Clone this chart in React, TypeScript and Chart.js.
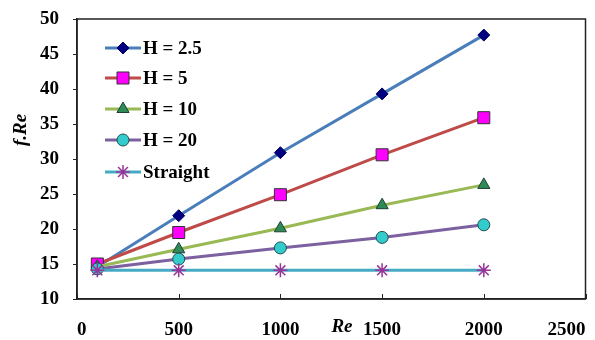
import React, { useEffect, useRef } from "react";
import { Chart, registerables } from "chart.js";
import { drawPoint } from "chart.js/helpers";

Chart.register(...registerables);

const reValues = [100, 500, 1000, 1500, 2000];
const seriesNames = ["H = 2.5", "H = 5", "H = 10", "H = 20", "Straight"];
const h25 = [14.6, 21.9, 30.9, 39.3, 47.7];
const h5 = [15.0, 19.5, 24.9, 30.6, 35.9];
const h10 = [14.6, 17.1, 20.1, 23.4, 26.3];
const h20 = [14.3, 15.7, 17.3, 18.8, 20.6];
const straight = [14.1, 14.1, 14.1, 14.1, 14.1];
const yTicks = [10, 15, 20, 25, 30, 35, 40, 45, 50];
const xTicks = [0, 500, 1000, 1500, 2000, 2500];

const lineColors = ["#4A7EBB", "#BE4B48", "#98B954", "#7D60A0", "#46AAC5"];
const markerFill = ["#000080", "#FF00FF", "#2E8B57", "#33CCCC", "#993399"];
const markerBorder = ["#000060", "#333333", "#1F3F2F", "#1F4F4F", "#993399"];
const markerStyle = ["rectRot", "rect", "triangle", "circle", "star"];
const markerRadius = [6, 8.5, 7, 6, 7];

const FONT = "'Liberation Serif', 'Times New Roman', serif";
const FS = 19;

const extras = {
  id: "extras",
  afterDraw(chart: any) {
    const ctx = chart.ctx;
    const a = chart.chartArea;
    const xs = chart.scales.x;
    ctx.save();
    ctx.strokeStyle = "#222";
    ctx.lineWidth = 1.5;
    ctx.strokeRect(a.left, a.top, a.right - a.left, a.bottom - a.top);
    // inward x tick marks
    ctx.lineWidth = 1;
    xTicks.forEach((v) => {
      const px = Math.round(xs.getPixelForValue(v)) + 0.5;
      ctx.beginPath();
      ctx.moveTo(px, a.bottom);
      ctx.lineTo(px, a.bottom - 5);
      ctx.stroke();
    });
    const rows = [48, 78, 109, 140, 172];
    rows.forEach((y, i) => {
      ctx.strokeStyle = lineColors[i];
      ctx.lineWidth = 3;
      ctx.beginPath();
      ctx.moveTo(105, y);
      ctx.lineTo(141, y);
      ctx.stroke();
      ctx.fillStyle = markerFill[i];
      ctx.strokeStyle = markerBorder[i];
      ctx.lineWidth = i === 4 ? 1.5 : 1;
      drawPoint(ctx, { pointStyle: markerStyle[i], radius: markerRadius[i], rotation: 0, borderWidth: 1 } as any, 123, y);
      ctx.fillStyle = "#000";
      ctx.font = `bold ${FS}px ${FONT}`;
      ctx.textBaseline = "middle";
      ctx.textAlign = "left";
      ctx.fillText(seriesNames[i], 143, y + 1);
    });
    ctx.fillStyle = "#000";
    ctx.font = `italic bold ${FS}px ${FONT}`;
    ctx.textAlign = "center";
    ctx.textBaseline = "middle";
    ctx.fillText("Re", 342, 327);
    ctx.translate(21, 130);
    ctx.rotate(-Math.PI / 2);
    ctx.fillText("f.Re", 0, 0);
    ctx.restore();
  },
};

export default function App() {
  const ref = useRef<HTMLCanvasElement>(null);
  useEffect(() => {
    const data = [h25, h5, h10, h20, straight];
    const chart = new Chart(ref.current!, {
      type: "line",
      data: {
        datasets: data.map((vals, i) => ({
          label: seriesNames[i],
          data: reValues.map((x, j) => ({ x, y: vals[j] })),
          borderColor: lineColors[i],
          borderWidth: 3,
          backgroundColor: markerFill[i],
          pointBackgroundColor: markerFill[i],
          pointBorderColor: markerBorder[i],
          pointBorderWidth: i === 4 ? 1.5 : 1,
          pointStyle: markerStyle[i] as any,
          pointRadius: markerRadius[i],
          tension: 0,
          order: 4 - i,
        })),
      },
      options: {
        responsive: false,
        animation: false,
        layout: { padding: { top: 19, right: 2, left: 0, bottom: 0 } },
        plugins: { legend: { display: false }, tooltip: { enabled: false } },
        scales: {
          x: {
            type: "linear",
            min: 0,
            max: 2500,
            afterBuildTicks: (s: any) => {
              s.ticks = xTicks.map((v) => ({ value: v }));
            },
            afterFit: (s: any) => {
              s.height = 41;
              s.paddingLeft = 0;
              s.paddingRight = 0;
            },
            grid: { display: false, drawTicks: false },
            border: { display: true, color: "#222", width: 1.5 },
            ticks: {
              color: "#000",
              font: { family: FONT, size: FS, weight: "bold" },
              padding: 20,
              align: "inner",
              maxRotation: 0,
              autoSkip: false,
              callback: (v: any) => String(v),
            },
          },
          y: {
            type: "linear",
            min: 10,
            max: 50,
            afterBuildTicks: (s: any) => {
              s.ticks = yTicks.map((v) => ({ value: v }));
            },
            afterFit: (s: any) => {
              s.width = 77;
              s.paddingTop = 0;
              s.paddingBottom = 0;
            },
            grid: { display: true, drawOnChartArea: false, drawTicks: true, tickLength: 4, color: "#222", lineWidth: 1 },
            border: { display: true, color: "#222", width: 1.5 },
            ticks: {
              color: "#000",
              font: { family: FONT, size: FS, weight: "bold" },
              padding: 14,
              autoSkip: false,
              callback: (v: any) => String(v),
            },
          },
        },
      },
      plugins: [extras],
    });
    return () => chart.destroy();
  }, []);
  return (
    <div style={{ position: "fixed", left: 0, top: 0, width: 595, height: 340, background: "#fff" }}>
      <canvas ref={ref} width={595} height={340} style={{ display: "block" }} />
    </div>
  );
}
